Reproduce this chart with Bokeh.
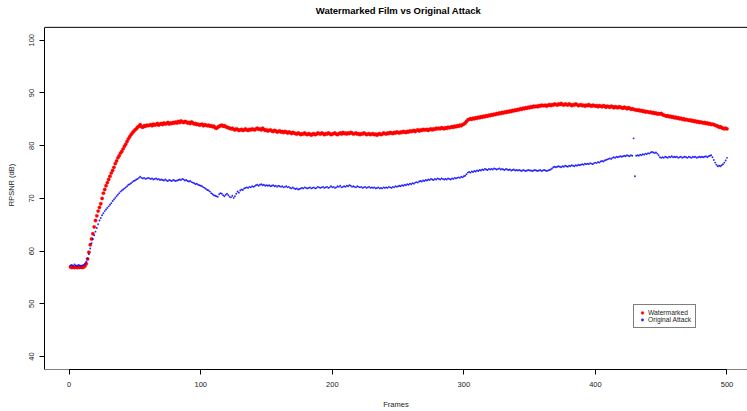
from bokeh.plotting import figure
from bokeh.models import Range1d, FixedTicker, Span, Label
from bokeh.embed import file_html
from bokeh.resources import INLINE

TITLE = "Watermarked Film vs Original Attack"
X_LABEL = "Frames"
Y_LABEL = "RPSNR (dB)"
X_TICKS = [0, 100, 200, 300, 400, 500]
Y_TICKS = [40, 50, 60, 70, 80, 90, 100]
SERIES_NAMES = ["Watermarked", "Original Attack"]

frames = list(range(1, 501))

watermarked = [
    57.0, 56.9, 57.0, 56.9, 57.0, 56.9, 57.0, 56.9, 57.0, 56.9,
    57.0, 57.2, 57.6, 58.5, 59.8, 61.2, 62.3, 63.3, 64.6, 65.8,
    66.7, 67.6, 68.3, 69.0, 70.0, 71.0, 71.7, 72.4, 73.0, 73.6,
    74.2, 74.8, 75.3, 75.9, 76.6, 77.1, 77.7, 78.1, 78.6, 78.9,
    79.4, 79.9, 80.3, 80.8, 81.3, 81.7, 82.1, 82.4, 82.7, 83.0,
    83.2, 83.5, 83.7, 84.0, 83.6, 83.5, 83.8, 83.7, 83.9, 83.8,
    83.9, 84.0, 83.8, 84.1, 83.9, 84.0, 84.2, 83.9, 84.1, 84.2,
    84.0, 84.3, 84.1, 84.2, 84.4, 84.1, 84.3, 84.2, 84.4, 84.3,
    84.5, 84.3, 84.6, 84.4, 84.7, 84.5, 84.4, 84.6, 84.5, 84.3,
    84.4, 84.2, 84.5, 84.3, 84.1, 84.2, 84.0, 84.1, 83.9, 84.0,
    84.1, 83.8, 84.0, 83.9, 83.8, 83.9, 83.7, 83.8, 83.6, 83.7,
    83.4, 83.3, 83.5, 83.7, 83.8, 83.9, 83.7, 83.8, 83.6, 83.5,
    83.4, 83.3, 83.2, 83.3, 83.1, 83.0, 83.2, 83.1, 82.9, 83.0,
    83.1, 82.9, 83.0, 83.2, 83.0, 82.9, 83.1, 83.0, 83.2, 83.1,
    83.0, 83.2, 83.3, 83.1, 83.2, 83.0, 83.3, 83.1, 82.9, 83.0,
    82.8, 82.9, 83.0, 82.8, 82.7, 82.9, 82.8, 82.6, 82.7, 82.8,
    82.6, 82.7, 82.5, 82.7, 82.6, 82.4, 82.6, 82.5, 82.3, 82.5,
    82.4, 82.3, 82.2, 82.4, 82.3, 82.1, 82.3, 82.2, 82.4, 82.2,
    82.1, 82.3, 82.2, 82.0, 82.2, 82.3, 82.1, 82.2, 82.4, 82.3,
    82.2, 82.4, 82.3, 82.1, 82.3, 82.2, 82.4, 82.3, 82.1, 82.2,
    82.3, 82.4, 82.2, 82.1, 82.3, 82.4, 82.2, 82.5, 82.3, 82.4,
    82.2, 82.4, 82.3, 82.5, 82.4, 82.2, 82.3, 82.4, 82.2, 82.3,
    82.1, 82.3, 82.2, 82.4, 82.3, 82.1, 82.2, 82.3, 82.1, 82.2,
    82.3, 82.1, 82.2, 82.0, 82.2, 82.3, 82.1, 82.2, 82.4, 82.3,
    82.2, 82.4, 82.3, 82.5, 82.4, 82.3, 82.5, 82.4, 82.6, 82.5,
    82.4, 82.6, 82.5, 82.7, 82.6, 82.5, 82.7, 82.6, 82.8, 82.7,
    82.8, 82.9, 82.7, 82.9, 83.0, 82.8, 83.0, 82.9, 83.1, 83.0,
    83.0, 83.1, 82.9, 83.1, 83.2, 83.0, 83.2, 83.1, 83.3, 83.2,
    83.3, 83.2, 83.4, 83.3, 83.2, 83.4, 83.3, 83.5, 83.4, 83.5,
    83.6, 83.5, 83.7, 83.6, 83.8, 83.7, 83.9, 83.8, 84.0, 84.1,
    84.3, 84.6, 84.9, 85.0, 85.1, 85.0, 85.2, 85.1, 85.3, 85.2,
    85.4, 85.3, 85.5, 85.4, 85.6, 85.5, 85.7, 85.6, 85.8, 85.7,
    85.9, 85.8, 86.0, 85.9, 86.1, 86.0, 86.2, 86.1, 86.3, 86.2,
    86.4, 86.3, 86.5, 86.4, 86.6, 86.5, 86.7, 86.6, 86.8, 86.7,
    86.9, 86.8, 87.0, 86.9, 87.1, 87.0, 87.2, 87.1, 87.3, 87.2,
    87.4, 87.3, 87.5, 87.4, 87.5, 87.4, 87.6, 87.5, 87.7, 87.6,
    87.6, 87.7, 87.5, 87.7, 87.8, 87.6, 87.8, 87.7, 87.9, 87.8,
    87.7, 87.9, 87.8, 88.0, 87.8, 87.7, 87.9, 87.8, 87.7, 87.9,
    87.8, 87.6, 87.8, 87.7, 87.9, 87.8, 87.6, 87.7, 87.8, 87.6,
    87.7, 87.5, 87.7, 87.6, 87.8, 87.6, 87.5, 87.7, 87.6, 87.5,
    87.6, 87.4, 87.6, 87.5, 87.4, 87.6, 87.5, 87.3, 87.5, 87.4,
    87.3, 87.5, 87.4, 87.2, 87.4, 87.3, 87.2, 87.4, 87.3, 87.2,
    87.1, 87.3, 87.2, 87.0, 87.2, 87.1, 86.9, 87.0, 86.9, 86.8,
    86.8, 86.7, 86.8, 86.6, 86.7, 86.5, 86.6, 86.4, 86.5, 86.4,
    86.3, 86.4, 86.2, 86.3, 86.1, 86.2, 86.0, 86.1, 86.0, 86.1,
    85.9, 85.8, 85.7, 85.6, 85.7, 85.5, 85.6, 85.4, 85.5, 85.3,
    85.4, 85.2, 85.3, 85.1, 85.2, 85.0, 85.1, 84.9, 85.0, 84.9,
    84.8, 84.9, 84.7, 84.8, 84.6, 84.7, 84.5, 84.6, 84.4, 84.5,
    84.4, 84.3, 84.4, 84.2, 84.3, 84.1, 84.2, 84.0, 84.1, 84.0,
    83.9, 83.8, 83.7, 83.5, 83.6, 83.4, 83.3, 83.2, 83.3, 83.2,
]

original_attack = [
    57.3, 57.4, 57.2, 57.5, 57.3, 57.2, 57.4, 57.3, 57.2, 57.3,
    57.4, 57.6, 58.0, 58.6, 59.4, 60.5, 61.5, 62.3, 63.0, 63.7,
    64.4, 65.1, 65.8, 66.3, 66.8, 67.2, 67.6, 67.9, 68.2, 68.5,
    68.8, 69.1, 69.5, 69.8, 70.1, 70.4, 70.7, 71.0, 71.3, 71.5,
    71.7, 71.9, 72.1, 72.3, 72.6, 72.7, 72.9, 73.1, 73.3, 73.4,
    73.6, 73.7, 73.9, 74.1, 73.9, 73.8, 73.9, 73.7, 73.8, 73.9,
    73.8, 73.7, 73.8, 73.6, 73.7, 73.8, 73.6, 73.7, 73.5, 73.6,
    73.5, 73.4, 73.6, 73.4, 73.3, 73.5, 73.4, 73.3, 73.5, 73.4,
    73.3, 73.4, 73.5, 73.6, 73.5, 73.7, 73.6, 73.4, 73.5, 73.3,
    73.2, 73.3, 73.1, 73.0, 72.9, 72.7, 72.8, 72.6, 72.5, 72.4,
    72.3, 72.1, 72.0, 71.8, 71.6, 71.5, 71.3, 71.0, 70.8, 70.6,
    70.5, 70.4, 70.3, 70.8, 71.0, 70.9, 70.6, 70.4, 70.7, 70.9,
    70.6, 70.3, 70.2, 70.5, 70.1, 70.4, 70.9, 71.3, 71.1, 71.5,
    71.7, 71.6, 71.9, 72.0, 72.1, 72.0, 72.2, 72.1, 72.3, 72.2,
    72.3, 72.5, 72.6, 72.4, 72.6, 72.7, 72.5, 72.6, 72.4, 72.5,
    72.4, 72.5, 72.3, 72.4, 72.5, 72.3, 72.4, 72.2, 72.4, 72.3,
    72.2, 72.3, 72.1, 72.2, 72.3, 72.1, 72.2, 72.0, 71.9, 72.1,
    71.9, 71.8, 71.9, 71.7, 71.8, 71.9, 72.0, 71.9, 72.1, 72.0,
    71.9, 72.0, 72.1, 71.9, 72.0, 72.1, 71.9, 72.0, 72.2, 72.1,
    72.0, 72.1, 72.2, 72.0, 72.1, 72.2, 72.0, 72.1, 72.3, 72.1,
    72.2, 72.0, 72.1, 72.3, 72.2, 72.4, 72.1, 72.2, 72.3, 72.2,
    72.4, 72.3, 72.5, 72.4, 72.2, 72.3, 72.2, 72.1, 72.3, 72.2,
    72.1, 72.2, 72.0, 72.1, 72.2, 72.0, 72.1, 72.2, 72.0, 72.1,
    72.0, 72.1, 71.9, 72.0, 72.1, 71.9, 72.0, 71.9, 72.1, 72.0,
    72.1, 72.0, 72.2, 72.1, 72.0, 72.2, 72.1, 72.3, 72.2, 72.3,
    72.4, 72.3, 72.5, 72.4, 72.6, 72.5, 72.7, 72.6, 72.8, 72.7,
    72.9, 72.8, 73.0, 73.1, 73.0, 73.2, 73.3, 73.2, 73.4, 73.3,
    73.5, 73.4, 73.6, 73.5, 73.7, 73.6, 73.5, 73.7, 73.6, 73.8,
    73.7, 73.6, 73.8, 73.7, 73.6, 73.7, 73.6, 73.8, 73.7, 73.6,
    73.8, 73.7, 73.9, 73.8, 73.9, 74.0, 73.9, 74.1, 74.0, 74.2,
    74.3, 74.6, 74.9, 75.0, 74.9, 75.1, 75.0, 75.2, 75.1, 75.3,
    75.2, 75.4, 75.3, 75.5, 75.4, 75.6, 75.5, 75.4, 75.6, 75.5,
    75.6, 75.5, 75.7, 75.6, 75.5, 75.6, 75.7, 75.5, 75.6, 75.5,
    75.4, 75.6, 75.5, 75.4, 75.5, 75.3, 75.4, 75.5, 75.3, 75.4,
    75.3, 75.4, 75.3, 75.2, 75.4, 75.3, 75.2, 75.3, 75.4, 75.3,
    75.3, 75.2, 75.3, 75.4, 75.3, 75.2, 75.3, 75.4, 75.2, 75.3,
    75.4, 75.3, 75.2, 75.3, 75.4, 75.5, 75.7, 75.9, 76.0, 75.9,
    76.0, 76.1, 76.0, 75.9, 76.1, 76.0, 76.2, 76.1, 76.0, 76.2,
    76.1, 76.3, 76.2, 76.1, 76.3, 76.2, 76.4, 76.3, 76.4, 76.5,
    76.4, 76.6, 76.5, 76.6, 76.5, 76.7, 76.6, 76.5, 76.7, 76.8,
    76.7, 76.9, 76.8, 77.0, 77.1, 77.0, 77.2, 77.3, 77.4, 77.5,
    77.6, 77.5, 77.7, 77.8, 77.7, 77.9, 77.8, 77.9, 78.0, 77.9,
    78.0, 78.1, 78.0, 78.2, 78.1, 78.0, 78.2, 78.1, 81.4, 74.2,
    78.1, 78.2, 78.1, 78.3, 78.2, 78.4, 78.3, 78.5, 78.4, 78.6,
    78.5, 78.7, 78.8, 78.7, 78.6, 78.7, 78.5, 78.2, 77.8, 77.7,
    77.8, 77.7, 77.9, 77.8, 77.7, 77.9, 77.8, 78.0, 77.8, 77.9,
    77.8, 77.9, 77.7, 77.8, 77.9, 77.7, 77.8, 77.9, 77.8, 77.7,
    77.9, 77.8, 77.7, 77.9, 77.8, 77.9, 77.7, 77.8, 77.9, 77.8,
    77.9, 77.8, 77.9, 78.0, 77.8, 78.0, 78.1, 78.2, 77.8, 77.3,
    76.8, 76.4, 76.1, 76.2, 76.1, 76.3, 76.5, 76.8, 77.2, 77.7,
]

FONT = "Liberation Sans"
# R plotting region (box); right side lies beyond the picture
BOX_X0, BOX_X1 = -18.77, 515.6
BOX_Y0, BOX_Y1 = 37.55, 102.45
PX_PER_Y = 5.3
TOP_EXTRA = 27 / PX_PER_Y          # room above the box for the title
TITLE_X = 250.3
TITLE_Y = BOX_Y1 + 17 / PX_PER_Y

p = figure(
    width=747, height=411,
    output_backend="svg", toolbar_location=None,
    x_range=Range1d(BOX_X0, BOX_X1), y_range=Range1d(BOX_Y0, BOX_Y1 + TOP_EXTRA),
    min_border_left=44, min_border_right=0, min_border_top=0, min_border_bottom=40,
)
p.outline_line_color = None
p.background_fill_color = "white"
p.border_fill_color = "white"
p.xgrid.grid_line_color = None
p.ygrid.grid_line_color = None

p.add_layout(Label(
    x=TITLE_X, y=TITLE_Y, text=TITLE,
    text_font=FONT, text_font_size="9.5px", text_font_style="bold",
    text_color="black", text_align="center", text_baseline="middle",
))

# box: bottom and top edges (left edge is the full-height y axis line)
for loc in (BOX_Y0, BOX_Y1):
    p.add_layout(Span(location=loc, dimension="width", line_color="black", line_width=1))

for ax in (p.xaxis[0], p.yaxis[0]):
    ax.major_tick_in = 0
    ax.major_tick_out = 5
    ax.minor_tick_line_color = None
    ax.axis_line_color = "black"
    ax.major_tick_line_color = "black"
    ax.major_label_text_font = FONT
    ax.major_label_text_font_size = "7.5px"
    ax.major_label_text_color = "#222222"
    ax.axis_label_text_font = FONT
    ax.axis_label_text_font_size = "7.5px"
    ax.axis_label_text_font_style = "normal"
    ax.axis_label_text_color = "#222222"
    ax.major_label_standoff = 5

p.xaxis[0].ticker = FixedTicker(ticks=X_TICKS)
p.xaxis[0].bounds = (X_TICKS[0], X_TICKS[-1])
p.xaxis[0].axis_label = X_LABEL
p.xaxis[0].major_label_standoff = 7
p.xaxis[0].axis_label_standoff = 10

p.yaxis[0].ticker = FixedTicker(ticks=Y_TICKS)
p.yaxis[0].bounds = (BOX_Y0, BOX_Y1)
p.yaxis[0].axis_label = Y_LABEL
p.yaxis[0].axis_label_standoff = 11
p.yaxis[0].major_label_orientation = "vertical"

p.scatter(frames, watermarked, size=3.4, fill_color="red", line_color="red",
          line_width=0.3, legend_label=SERIES_NAMES[0])
p.scatter(frames, original_attack, size=1.9, fill_color="blue", line_color=None,
          fill_alpha=0.85, legend_label=SERIES_NAMES[1])

lg = p.legend[0]
lg.location = (589, 41)
lg.label_text_font = FONT
lg.label_text_font_size = "6.7px"
lg.label_text_color = "#222222"
lg.glyph_width = 8
lg.glyph_height = 7
lg.label_height = 7
lg.label_standoff = 2
lg.spacing = 0
lg.padding = 4
lg.margin = 0
lg.border_line_color = "black"
lg.border_line_width = 1
lg.background_fill_color = "white"

open("out.html", "w").write(file_html(p, INLINE))
